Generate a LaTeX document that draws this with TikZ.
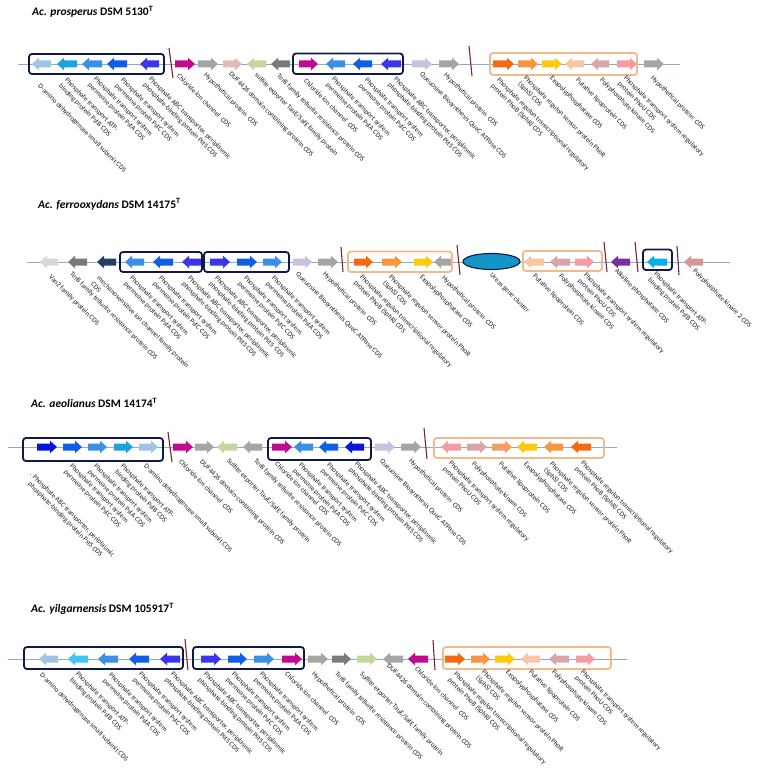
\documentclass[tikz,border=0pt]{standalone}
\usepackage{fontspec}
\setmainfont{Carlito}
\definecolor{navy}{HTML}{0F1A4A}
\definecolor{tanb}{HTML}{F2B98A}
\definecolor{backb}{HTML}{8FAACC}
\definecolor{sepc}{HTML}{7B2430}
\definecolor{lightblue}{HTML}{9DC3E6}
\definecolor{cyanb}{HTML}{1AA3DF}
\definecolor{skyc}{HTML}{3CC6F2}
\definecolor{skyb}{HTML}{0AAEEA}
\definecolor{medblue}{HTML}{3B8FE5}
\definecolor{blueb}{HTML}{0F5FE6}
\definecolor{indigo}{HTML}{3A35E8}
\definecolor{dblue}{HTML}{0A14DC}
\definecolor{magentab}{HTML}{C1088E}
\definecolor{grayb}{HTML}{A5A5A5}
\definecolor{dgray}{HTML}{7A7A7A}
\definecolor{lgray}{HTML}{D8D8D8}
\definecolor{navyg}{HTML}{243F60}
\definecolor{pinkb}{HTML}{E6B9B8}
\definecolor{lgreen}{HTML}{C3D69B}
\definecolor{lavender}{HTML}{C8C2DE}
\definecolor{orangered}{HTML}{F36A10}
\definecolor{orangeb}{HTML}{F7963F}
\definecolor{lorange}{HTML}{F89C60}
\definecolor{yellowb}{HTML}{FFCA0A}
\definecolor{peach}{HTML}{F8C6A3}
\definecolor{dpink}{HTML}{D9A5A8}
\definecolor{dpinkb}{HTML}{D6969A}
\definecolor{salmon}{HTML}{F59BA3}
\definecolor{purpleb}{HTML}{7A2FA0}
\definecolor{ureac}{HTML}{1495C8}
\definecolor{labc}{HTML}{1C1C1C}
\newcommand{\geneR}[4]{\fill[#4] (#1,#3-3.5) -- (#2-7,#3-3.5) -- (#2-7,#3-6.3) -- (#2,#3) -- (#2-7,#3+6.3) -- (#2-7,#3+3.5) -- (#1,#3+3.5) -- cycle;}
\newcommand{\geneL}[4]{\fill[#4] (#2,#3-3.5) -- (#1+7,#3-3.5) -- (#1+7,#3-6.3) -- (#1,#3) -- (#1+7,#3+6.3) -- (#1+7,#3+3.5) -- (#2,#3+3.5) -- cycle;}
\newcommand{\glab}[4]{\node[glabel] (#1) at (#2,#3) {#4};}
\tikzset{
  glabel/.style={rotate=-45, anchor=north west, inner sep=0pt, align=left, text=labc, font=\fontsize{7}{8.5}\selectfont},
  titlet/.style={anchor=base west, inner sep=0pt, font=\fontsize{11.5}{13}\selectfont\bfseries},
  backbone/.style={draw=backb, line width=0.9pt},
  nbox/.style={draw=navy, line width=1.8pt, rounded corners=3pt},
  tbox/.style={draw=tanb, line width=1.8pt, rounded corners=3pt},
  sepline/.style={draw=sepc, line width=1.1pt}
}
\begin{document}
\begin{tikzpicture}[x=1pt,y=-1pt]
\useasboundingbox (0,0) rectangle (764,773);
\fill[white] (0,0) rectangle (764,773);

% ================= Panel 1 =================
\node[titlet] (t1) at (32,15.5) {\textit{Ac. prosperus} DSM 5130\textsuperscript{T}};
\draw[backbone] (18,64) -- (680,64);
\geneL{32}{51}{64}{lightblue}
\geneL{57}{77}{64}{cyanb}
\geneL{82}{102}{64}{medblue}
\geneL{107}{127}{64}{blueb}
\geneL{140}{159}{64}{indigo}
\geneR{175}{195}{64}{magentab}
\geneR{198}{218}{64}{grayb}
\geneR{223}{242}{64}{pinkb}
\geneL{247}{266}{64}{lgreen}
\geneL{271}{290}{64}{dgray}
\geneR{299}{318}{64}{magentab}
\geneL{326}{345}{64}{medblue}
\geneL{353}{372}{64}{blueb}
\geneL{381}{401}{64}{indigo}
\geneR{412}{432}{64}{lavender}
\geneR{439}{459}{64}{grayb}
\geneR{493}{514}{64}{orangered}
\geneR{518}{538}{64}{orangeb}
\geneR{542}{562}{64}{yellowb}
\geneL{565}{584}{64}{peach}
\geneL{591}{609}{64}{dpink}
\geneR{617}{637}{64}{salmon}
\geneR{644}{664}{64}{grayb}
\draw[nbox] (29,54) rectangle (164,74);
\draw[nbox] (293,53.5) rectangle (403,74);
\draw[tbox] (490,53) rectangle (637,75);
\draw[sepline] (169,48) -- (173,78);
\draw[sepline] (469,46) -- (472,76);

\glab{a1}{41}{83}{D-amino dehydrogenase small subunit CDS}
\glab{a2}{68}{77}{Phosphate transport ATP-\\binding protein PstB CDS}
\glab{a3}{97}{76}{Phosphate transport system\\permease protein PstA CDS}
\glab{a4}{124}{77}{Phosphate transport system\\permease protein PstC CDS}
\glab{a5}{152}{76}{Phosphate ABC transporter, periplasmic\\phosphate-binding protein PstS CDS}
\glab{a6}{180}{73}{Chloride ion channel\ \ CDS}
\glab{a7}{207}{72}{Hypothetical protein\ \ CDS}
\glab{a8}{232}{71}{DUF4426 domain-containing protein CDS}
\glab{a9}{258}{72}{sulfite exporter TauE/SafE family protein}
\glab{a10}{280}{73}{TerB family tellurite resistance protein CDS}
\glab{a11}{307}{78}{Chloride ion channel\ \ CDS}
\glab{a12}{335}{76}{Phosphate transport system\\permease protein PstA CDS}
\glab{a13}{368}{77}{Phosphate transport system\\permease protein PstC CDS}
\glab{a14}{397}{76}{Phosphate ABC transporter, periplasmic\\phosphate-binding protein PstS CDS}
\glab{a15}{423}{71}{Queuosine Biosynthesis QueC ATPase CDS}
\glab{a16}{447}{72}{Hypothetical protein\ \ CDS}
\glab{a17}{500}{77}{Phosphate regulon transcriptional regulatory\\protein PhoB (SphR) CDS}
\glab{a18}{527}{75}{Phosphate regulon sensor protein PhoR\\(SphS) CDS}
\glab{a19}{553}{75}{Exopolyphosphatase CDS}
\glab{a20}{579}{77}{Putative lipoprotein CDS}
\glab{a21}{603}{77}{Polyphosphate kinase CDS}
\glab{a22}{627}{75}{Phosphate transport system regulatory\\protein PhoU CDS}
\glab{a23}{654}{75}{Hypothetical protein\ \ CDS}

% ================= Panel 2 =================
\node[titlet] (t2) at (38,208) {\textit{Ac. ferrooxydans} DSM 14175\textsuperscript{T}};
\draw[backbone] (27,262) -- (730,262);
\geneL{40}{58}{262}{lgray}
\geneL{68}{87}{262}{dgray}
\geneL{97}{116}{262}{navyg}
\geneL{125}{144}{262}{medblue}
\geneL{153}{173}{262}{blueb}
\geneL{182}{202}{262}{indigo}
\geneR{210}{230}{262}{indigo}
\geneR{237}{257}{262}{blueb}
\geneR{263}{282}{262}{medblue}
\geneR{293}{312}{262}{lavender}
\geneR{318}{338}{262}{grayb}
\geneR{354}{373}{262}{orangered}
\geneR{382}{402}{262}{orangeb}
\geneR{414}{433}{262}{yellowb}
\geneL{434}{451}{262}{grayb}
\filldraw[fill=ureac, draw=navy, line width=1.1pt] (491.5,261.5) ellipse [x radius=28.5, y radius=8];
\geneL{524}{544}{262}{peach}
\geneL{550}{570}{262}{dpink}
\geneR{575}{594}{262}{salmon}
\geneL{611}{630}{262}{purpleb}
\geneL{647}{667}{262}{skyb}
\geneL{684}{703}{262}{dpinkb}
\draw[nbox] (120,252) rectangle (202,272);
\draw[nbox] (204,252) rectangle (289,272);
\draw[tbox] (348,251.5) rectangle (452,272);
\draw[tbox] (523,251) rectangle (602,271);
\draw[nbox] (643,249.5) rectangle (672,270);
\draw[sepline] (341,247) -- (343,272);
\draw[sepline] (457,245) -- (460,275);
\draw[sepline] (604,242) -- (607,272);
\draw[sepline] (635,242) -- (638,272);
\draw[sepline] (677,246) -- (679,275);

\glab{b1}{52}{274}{VanZ family protein CDS}
\glab{b2}{73}{271}{TerB family tellurite resistance protein CDS}
\glab{b3}{100}{275}{mechanosensitive ion channel family protein\\CDS}
\glab{b4}{133}{275}{Phosphate transport system\\permease protein PstA CDS}
\glab{b5}{162}{275}{Phosphate transport system\\permease protein PstC CDS}
\glab{b6}{191}{275}{Phosphate ABC transporter, periplasmic\\phosphate-binding protein PstS CDS}
\glab{b7}{218}{275}{Phosphate ABC transporter, periplasmic\\phosphate-binding protein PstS\ \ CDS}
\glab{b8}{247}{275}{Phosphate transport system\\permease protein PstC CDS}
\glab{b9}{275}{275}{Phosphate transport system\\permease protein PstA CDS}
\glab{b10}{299}{271}{Queuosine Biosynthesis QueC ATPase CDS}
\glab{b11}{326}{271}{Hypothetical protein\ \ CDS}
\glab{b12}{363}{274}{Phosphate regulon transcriptional regulatory\\protein PhoB (SphR) CDS}
\glab{b13}{392}{274}{Phosphate regulon sensor protein PhoR\\(SphS) CDS}
\glab{b14}{423}{274}{Exopolyphosphatase CDS}
\glab{b15}{445}{275}{Hypothetical protein\ \ CDS}
\glab{b16}{493}{272}{Ureas gene cluster}
\glab{b17}{536}{273}{Putative lipoprotein CDS}
\glab{b18}{562}{273}{Polyphosphate kinase CDS}
\glab{b19}{587}{272}{Phosphate transport system regulatory\\protein PhoU CDS}
\glab{b20}{618}{268}{Alkaline phosphatase CDS}
\glab{b21}{657}{271}{Phosphate transport ATP-\\binding protein PstB CDS}
\glab{b22}{696}{268}{Polyphosphate kinase 2 CDS}

% ================= Panel 3 =================
\node[titlet] (t3) at (31,407.5) {\textit{Ac. aeolianus} DSM 14174\textsuperscript{T}};
\draw[backbone] (8,447) -- (617,447);
\geneR{37}{57}{447}{dblue}
\geneR{63}{82}{447}{blueb}
\geneR{88}{107}{447}{medblue}
\geneR{114}{133}{447}{cyanb}
\geneR{139}{158}{447}{lightblue}
\geneR{173}{193}{447}{magentab}
\geneR{195}{214}{447}{grayb}
\geneL{217}{237}{447}{lgreen}
\geneL{243}{262}{447}{grayb}
\geneR{272}{292}{447}{magentab}
\geneL{294}{313}{447}{medblue}
\geneL{319}{338}{447}{blueb}
\geneL{345}{364}{447}{dblue}
\geneR{375}{395}{447}{lavender}
\geneR{401}{421}{447}{grayb}
\geneL{441}{461}{447}{salmon}
\geneR{467}{487}{447}{dpink}
\geneR{492}{512}{447}{lorange}
\geneL{517}{537}{447}{yellowb}
\geneL{544}{563}{447}{orangeb}
\geneL{571}{591}{447}{orangered}
\draw[nbox] (23,438) rectangle (163,461);
\draw[nbox] (268,438) rectangle (371,460);
\draw[tbox] (434,438) rectangle (604,458);
\draw[sepline] (168,432) -- (172,462);
\draw[sepline] (424,428) -- (427,459);

\glab{c1}{33}{471}{. Phosphate ABC transporter, periplasmic\\\hspace*{6pt}phosphate-binding protein PstS CDS}
\glab{c2}{73}{463}{Phosphate transport system\\permease protein PstC CDS}
\glab{c3}{97}{463}{Phosphate transport system\\permease protein PstA CDS}
\glab{c4}{124}{463}{Phosphate transport ATP-\\binding protein PstB CDS}
\glab{c5}{147}{463}{D-amino dehydrogenase small subunit CDS}
\glab{c6}{182}{459}{Chloride ion channel\ \ CDS}
\glab{c7}{203}{459}{DUF4426 domain-containing protein CDS}
\glab{c8}{230}{458}{Sulfite exporter TauE/SafE family protein}
\glab{c9}{257}{458}{TerB family tellurite resistance protein CDS}
\glab{c10}{278}{461}{Chloride ion channel\ \ CDS}
\glab{c11}{302}{462}{Phosphate transport system\\permease protein PstA CDS}
\glab{c12}{330}{462}{Phosphate transport system\\permease protein PstC CDS}
\glab{c13}{358}{461}{Phosphate ABC transporter, periplasmic\\phosphate-binding protein PstS CDS}
\glab{c14}{383}{458}{Queuosine Biosynthesis QueC ATPase CDS}
\glab{c15}{412}{458}{Hypothetical protein\ \ CDS}
\glab{c16}{452}{460}{Phosphate transport system regulatory\\protein PhoU CDS}
\glab{c17}{475}{461}{Polyphosphate kinase CDS}
\glab{c18}{502}{461}{Putative lipoprotein CDS}
\glab{c19}{527}{461}{Exopolyphosphatase CDS}
\glab{c20}{553}{461}{Phosphate regulon sensor protein PhoR\\(SphS) CDS}
\glab{c21}{584}{460}{Phosphate regulon transcriptional regulatory\\protein PhoB (SphR) CDS}

% ================= Panel 4 =================
\node[titlet] (t4) at (31,612.5) {\textit{Ac. yilgarnensis} DSM 105917\textsuperscript{T}};
\draw[backbone] (8,659) -- (627,659);
\geneL{39}{58}{659}{lightblue}
\geneL{68}{88}{659}{skyc}
\geneL{98}{118}{659}{medblue}
\geneL{129}{149}{659}{blueb}
\geneL{160}{180}{659}{indigo}
\geneR{201}{221}{659}{indigo}
\geneR{228}{247}{659}{blueb}
\geneR{254}{274}{659}{medblue}
\geneR{282}{302}{659}{magentab}
\geneR{308}{328}{659}{grayb}
\geneR{332}{351}{659}{dgray}
\geneR{357}{377}{659}{lgreen}
\geneL{383}{403}{659}{grayb}
\geneL{408}{428}{659}{magentab}
\geneR{445}{465}{659}{orangered}
\geneR{471}{490}{659}{orangeb}
\geneR{495}{515}{659}{yellowb}
\geneL{521}{540}{659}{peach}
\geneL{549}{569}{659}{dpink}
\geneR{576}{595}{659}{salmon}
\draw[nbox] (24,647) rectangle (183,669);
\draw[nbox] (193,647) rectangle (304,669);
\draw[tbox] (443,647) rectangle (611,669);
\draw[sepline] (185,639) -- (188,670);
\draw[sepline] (433,640) -- (435,670);

\glab{d1}{43}{672}{D-amino dehydrogenase small subunit CDS}
\glab{d2}{79}{671}{Phosphate transport ATP-\\binding protein PstB CDS}
\glab{d3}{112}{672}{Phosphate transport system\\permease protein PstA CDS}
\glab{d4}{142}{671}{Phosphate transport system\\permease protein PstC CDS}
\glab{d5}{174}{671}{Phosphate ABC transporter, periplasmic\\phosphate-binding protein PstS CDS}
\glab{d6}{207}{671}{Phosphate ABC transporter, periplasmic\\phosphate-binding protein PstS CDS}
\glab{d7}{235}{671}{Phosphate transport system\\permease protein PstC CDS}
\glab{d8}{263}{671}{Phosphate transport system\\permease protein PstA CDS}
\glab{d9}{288}{671}{Chloride ion channel\ \ CDS}
\glab{d10}{315}{671}{Hypothetical protein\ \ CDS}
\glab{d11}{338}{671}{TerB family tellurite resistance protein CDS}
\glab{d12}{363}{671}{Sulfite exporter TauE/SafE family protein}
\glab{d13}{390}{663}{DUF4426 domain-containing protein CDS}
\glab{d14}{418}{666}{Chloride ion channel\ \ CDS}
\glab{d15}{457}{671}{Phosphate regulon transcriptional regulatory\\protein PhoB (SphR) CDS}
\glab{d16}{485}{669}{Phosphate regulon sensor protein PhoR\\(SphS) CDS}
\glab{d17}{509}{669}{Exopolyphosphatase CDS}
\glab{d18}{532}{669}{Putative lipoprotein CDS}
\glab{d19}{555}{669}{Polyphosphate kinase CDS}
\glab{d20}{584}{669}{Phosphate transport system regulatory\\protein PhoU CDS}
\end{tikzpicture}
\end{document}
